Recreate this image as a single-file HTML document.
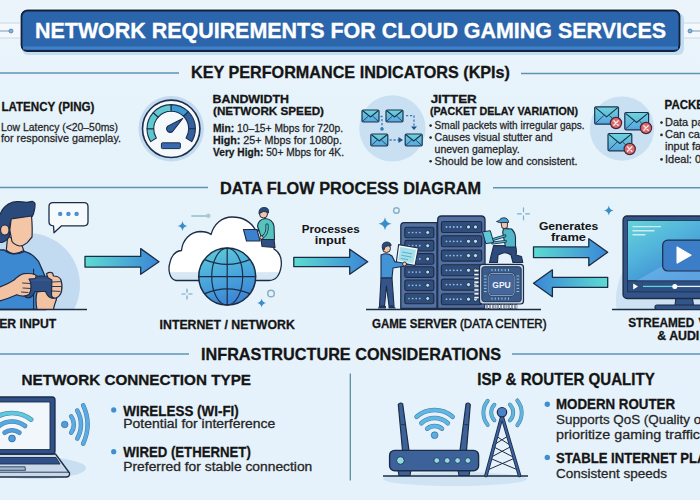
<!DOCTYPE html>
<html><head><meta charset="utf-8">
<style>
html,body{margin:0;padding:0;width:700px;height:500px;overflow:hidden;background:#e6f2fb;}
svg{display:block;font-family:"Liberation Sans",sans-serif;}
.h{font-weight:bold;fill:#151515;stroke:#151515;stroke-width:0.3;}
.b{fill:#262626;stroke:#262626;stroke-width:0.28;}
</style></head><body>
<svg width="700" height="500" viewBox="0 0 700 500">
<defs>
<linearGradient id="bg" x1="0" y1="0" x2="0" y2="1">
<stop offset="0" stop-color="#ebf4fb"/><stop offset="0.2" stop-color="#e7f3fb"/><stop offset="1" stop-color="#e6f2fb"/>
</linearGradient>
</defs>
<rect width="700" height="500" fill="url(#bg)"/>

<!-- TITLE -->
<g id="title">
<rect x="0" y="23" width="21" height="15" fill="#f4f8fc"/>
<line x1="0" y1="23" x2="21" y2="23" stroke="#c9d8e6" stroke-width="1"/>
<line x1="0" y1="38" x2="21" y2="38" stroke="#c9d8e6" stroke-width="1"/>
<line x1="0" y1="31" x2="11" y2="31" stroke="#7b9bb5" stroke-width="1"/>
<circle cx="11" cy="31" r="2" fill="#7fb6de" stroke="#4a7ea8" stroke-width="0.8"/>
<rect x="680" y="23" width="20" height="15" fill="#f4f8fc"/>
<line x1="680" y1="23" x2="700" y2="23" stroke="#c9d8e6" stroke-width="1"/>
<line x1="680" y1="38" x2="700" y2="38" stroke="#c9d8e6" stroke-width="1"/>
<line x1="690" y1="31" x2="700" y2="31" stroke="#7b9bb5" stroke-width="1"/>
<circle cx="690" cy="31" r="2" fill="#7fb6de" stroke="#4a7ea8" stroke-width="0.8"/>
<rect x="20" y="8.5" width="661" height="44" rx="7.5" fill="#fbfdff"/>
<rect x="22" y="13" width="662" height="42" rx="6" fill="#c4dcf2"/>
<rect x="21.5" y="10.5" width="658" height="40.5" rx="6" fill="#2b65ab" stroke="#10223f" stroke-width="1.8"/>
<rect x="23" y="46.5" width="655" height="3" fill="#4080c6"/>
<text x="35" y="37.6" font-size="22.2" font-weight="bold" fill="#ffffff" stroke="#ffffff" stroke-width="0.35" textLength="631" lengthAdjust="spacingAndGlyphs">NETWORK REQUIREMENTS FOR CLOUD GAMING SERVICES</text>
</g>

<!-- SECTION HEADERS -->
<line x1="0" y1="73" x2="179" y2="73" stroke="#5b94b5" stroke-width="1.4"/>
<line x1="521" y1="73.5" x2="700" y2="73.5" stroke="#5b94b5" stroke-width="1.4"/>
<text class="h" x="191" y="78.4" font-size="16.5" textLength="319" lengthAdjust="spacingAndGlyphs">KEY PERFORMANCE INDICATORS (KPIs)</text>

<line x1="0" y1="187.5" x2="208" y2="187.5" stroke="#5b94b5" stroke-width="1.4"/>
<line x1="493" y1="187.7" x2="700" y2="187.7" stroke="#5b94b5" stroke-width="1.4"/>
<text class="h" x="220" y="193.7" font-size="16" textLength="261" lengthAdjust="spacingAndGlyphs">DATA FLOW PROCESS DIAGRAM</text>

<line x1="0" y1="354" x2="189" y2="354" stroke="#5b94b5" stroke-width="1.4"/>
<line x1="512" y1="354" x2="700" y2="354" stroke="#5b94b5" stroke-width="1.4"/>
<text class="h" x="201" y="360" font-size="16.5" textLength="300" lengthAdjust="spacingAndGlyphs">INFRASTRUCTURE CONSIDERATIONS</text>

<!-- KPI TEXTS -->
<text class="h" x="1.4" y="110.7" font-size="12.5" textLength="93" lengthAdjust="spacingAndGlyphs">LATENCY (PING)</text>
<text class="b" x="1" y="131" font-size="11.8" textLength="117" lengthAdjust="spacingAndGlyphs">Low Latency (&lt;20–50ms)</text>
<text class="b" x="1" y="141.5" font-size="11.8" textLength="120" lengthAdjust="spacingAndGlyphs">for responsive gameplay.</text>

<text class="h" x="212.5" y="103" font-size="11.6" textLength="76.5" lengthAdjust="spacingAndGlyphs">BANDWIDTH</text>
<text class="h" x="213" y="115" font-size="11.6" textLength="111" lengthAdjust="spacingAndGlyphs">(NETWORK SPEED)</text>
<text class="b" x="213" y="131.6" font-size="11" textLength="130" lengthAdjust="spacingAndGlyphs"><tspan font-weight="bold" fill="#151515">Min:</tspan> 10–15+ Mbps for 720p.</text>
<text class="b" x="213" y="144" font-size="11" textLength="129" lengthAdjust="spacingAndGlyphs"><tspan font-weight="bold" fill="#151515">High:</tspan> 25+ Mbps for 1080p.</text>
<text class="b" x="213" y="156.2" font-size="11" textLength="131" lengthAdjust="spacingAndGlyphs"><tspan font-weight="bold" fill="#151515">Very High:</tspan> 50+ Mbps for 4K.</text>

<text class="h" x="430.7" y="102.9" font-size="11.6" textLength="46" lengthAdjust="spacingAndGlyphs">JITTER</text>
<text class="h" x="430" y="115" font-size="11.6" textLength="148" lengthAdjust="spacingAndGlyphs">(PACKET DELAY VARIATION)</text>
<circle cx="430.6" cy="125.6" r="1.3" fill="#262626"/>
<text class="b" x="434.6" y="129" font-size="11" textLength="150" lengthAdjust="spacingAndGlyphs">Small packets with irregular gaps.</text>
<circle cx="430.6" cy="137.6" r="1.3" fill="#262626"/>
<text class="b" x="434.6" y="141" font-size="11" textLength="118" lengthAdjust="spacingAndGlyphs">Causes visual stutter and</text>
<text class="b" x="434.6" y="152.5" font-size="11" textLength="85" lengthAdjust="spacingAndGlyphs">uneven gameplay.</text>
<circle cx="430.6" cy="161.2" r="1.3" fill="#262626"/>
<text class="b" x="434.6" y="164.6" font-size="11" textLength="143" lengthAdjust="spacingAndGlyphs">Should be low and consistent.</text>

<text class="h" x="664.6" y="108.8" font-size="12.6" textLength="81" lengthAdjust="spacingAndGlyphs">PACKET LOSS</text>
<circle cx="661.5" cy="122.6" r="1.3" fill="#262626"/>
<text class="b" x="665" y="126" font-size="11">Data packets lost.</text>
<circle cx="661.5" cy="134.9" r="1.3" fill="#262626"/>
<text class="b" x="665" y="138.3" font-size="11">Can cause lag and</text>
<text class="b" x="665" y="150" font-size="11">input failures.</text>
<circle cx="661.5" cy="159.4" r="1.3" fill="#262626"/>
<text class="b" x="665" y="162.8" font-size="11">Ideal: 0%.</text>

<!-- DATA FLOW LABELS -->
<text class="h" x="-0.8" y="328" font-size="12.4" textLength="57" lengthAdjust="spacingAndGlyphs">ER INPUT</text>
<text class="h" x="159.6" y="329" font-size="12.4" textLength="135.2" lengthAdjust="spacingAndGlyphs">INTERNET / NETWORK</text>
<text class="h" style="stroke-width:0.05" x="301.7" y="233.3" font-size="11.3" textLength="58" lengthAdjust="spacingAndGlyphs">Processes</text>
<text class="h" style="stroke-width:0.05" x="314.8" y="244.2" font-size="11.3" textLength="31" lengthAdjust="spacingAndGlyphs">input</text>
<text class="h" style="stroke-width:0.05" x="538.9" y="229.8" font-size="11.3" textLength="59.4" lengthAdjust="spacingAndGlyphs">Generates</text>
<text class="h" style="stroke-width:0.05" x="551" y="241.4" font-size="11.3" textLength="35" lengthAdjust="spacingAndGlyphs">frame</text>
<text class="h" x="372" y="328.4" font-size="12.4" textLength="174.5" lengthAdjust="spacingAndGlyphs">GAME SERVER <tspan font-weight="normal" style="stroke-width:0.55">(DATA CENTER)</tspan></text>
<text class="h" x="628.2" y="326.6" font-size="12" textLength="66" lengthAdjust="spacingAndGlyphs">STREAMED</text><text class="h" x="698.6" y="326.6" font-size="12">VIDEO</text>
<text class="h" x="657.3" y="339.7" font-size="12" textLength="42" lengthAdjust="spacingAndGlyphs">&amp; AUDI</text><text class="h" x="701" y="339.7" font-size="12">O</text>

<!-- INFRA TEXT -->
<text class="h" x="21.5" y="384.5" font-size="15" textLength="229.5" lengthAdjust="spacingAndGlyphs">NETWORK CONNECTION TYPE</text>
<circle cx="113.7" cy="409.9" r="2.6" fill="#3f8fd0"/>
<text class="h" x="123.3" y="415.7" font-size="15" textLength="115.5" lengthAdjust="spacingAndGlyphs">WIRELESS (WI-FI)</text>
<text class="b" x="123.3" y="428.4" font-size="12" textLength="152" lengthAdjust="spacingAndGlyphs">Potential for interference</text>
<circle cx="113.7" cy="451.7" r="2.6" fill="#3f8fd0"/>
<text class="h" x="123.3" y="456.8" font-size="15" textLength="127.5" lengthAdjust="spacingAndGlyphs">WIRED (ETHERNET)</text>
<text class="b" x="123.3" y="470.6" font-size="12" textLength="189" lengthAdjust="spacingAndGlyphs">Preferred for stable connection</text>

<line x1="350.3" y1="373.4" x2="350.3" y2="480.4" stroke="#5b909c" stroke-width="1.3"/>

<text class="h" x="477.3" y="384.6" font-size="15.7" textLength="177.5" lengthAdjust="spacingAndGlyphs">ISP &amp; ROUTER QUALITY</text>
<circle cx="547.3" cy="404.2" r="2.7" fill="#3f8fd0"/>
<text class="h" x="556" y="409.4" font-size="13.8" textLength="119" lengthAdjust="spacingAndGlyphs">MODERN ROUTER</text>
<text class="b" x="556" y="424.4" font-size="13.4">Supports QoS (Quality of Service) to</text>
<text class="b" x="556" y="439" font-size="13.4" textLength="148" lengthAdjust="spacingAndGlyphs">prioritize gaming traffic.</text>
<circle cx="547.3" cy="457.4" r="2.7" fill="#3f8fd0"/>
<text class="h" x="556" y="462.8" font-size="13.8" textLength="160" lengthAdjust="spacingAndGlyphs">STABLE INTERNET PLAN</text>
<text class="b" x="556" y="477.6" font-size="13.4" textLength="111" lengthAdjust="spacingAndGlyphs">Consistent speeds</text>

<circle cx="171.2" cy="128.8" r="32.8" fill="#c3dbf0"/>
<circle cx="171.2" cy="128.8" r="28.7" fill="#f6f9fc" stroke="#1c2f4c" stroke-width="1.6"/>
<path d="M150.68,141.62 A24.2,24.2 0 0 1 147.00,128.80 L153.70,128.80 A17.5,17.5 0 0 0 156.36,138.07 Z" fill="#5cc6cd" stroke="#1c2f4c" stroke-width="1.1" stroke-linejoin="round"/>
<path d="M147.00,128.80 A24.2,24.2 0 0 1 153.22,112.61 L158.19,117.09 A17.5,17.5 0 0 0 153.70,128.80 Z" fill="#5ec9cf" stroke="#1c2f4c" stroke-width="1.1" stroke-linejoin="round"/>
<path d="M153.22,112.61 A24.2,24.2 0 0 1 171.20,104.60 L171.20,111.30 A17.5,17.5 0 0 0 158.19,117.09 Z" fill="#62cbd0" stroke="#1c2f4c" stroke-width="1.1" stroke-linejoin="round"/>
<path d="M171.20,104.60 A24.2,24.2 0 0 1 188.31,111.69 L183.57,116.43 A17.5,17.5 0 0 0 171.20,111.30 Z" fill="#3d9bd4" stroke="#1c2f4c" stroke-width="1.1" stroke-linejoin="round"/>
<path d="M188.31,111.69 A24.2,24.2 0 0 1 195.40,128.80 L188.70,128.80 A17.5,17.5 0 0 0 183.57,116.43 Z" fill="#33609e" stroke="#1c2f4c" stroke-width="1.1" stroke-linejoin="round"/>
<path d="M195.40,128.80 A24.2,24.2 0 0 1 191.72,141.62 L186.04,138.07 A17.5,17.5 0 0 0 188.70,128.80 Z" fill="#33609e" stroke="#1c2f4c" stroke-width="1.1" stroke-linejoin="round"/>
<path d="M172.61,131.48 L182.72,118.43 L167.79,126.12 A3.6,3.6 0 1 0 172.61,131.48 Z" fill="#33609e" stroke="#1c2f4c" stroke-width="1.1" stroke-linejoin="round"/>
<rect x="161.4" y="142.8" width="19" height="5.8" rx="1" fill="#3a6aae" stroke="#1c2f4c" stroke-width="1"/>
<defs><linearGradient id="eg" x1="0" y1="0" x2="0" y2="1"><stop offset="0" stop-color="#6ed4d8"/><stop offset="1" stop-color="#56a4e0"/></linearGradient></defs>
<circle cx="392.4" cy="128.4" r="33.2" fill="#c9e0f3"/>
<rect x="362" y="110" width="17" height="12" rx="1.2" fill="url(#eg)" stroke="#1a3250" stroke-width="1.2"/><path d="M362.8,110.8 L370.5,116.96 L378.2,110.8" fill="none" stroke="#1a3250" stroke-width="1.1" stroke-linejoin="round"/><path d="M362.8,121.2 L368.46,116.0 M378.2,121.2 L372.54,116.0" fill="none" stroke="#1a3250" stroke-width="0.8"/>
<rect x="386" y="110" width="17" height="12" rx="1.2" fill="url(#eg)" stroke="#1a3250" stroke-width="1.2"/><path d="M386.8,110.8 L394.5,116.96 L402.2,110.8" fill="none" stroke="#1a3250" stroke-width="1.1" stroke-linejoin="round"/><path d="M386.8,121.2 L392.46,116.0 M402.2,121.2 L396.54,116.0" fill="none" stroke="#1a3250" stroke-width="0.8"/>
<rect x="370.8" y="134" width="17" height="12" rx="1.2" fill="url(#eg)" stroke="#1a3250" stroke-width="1.2"/><path d="M371.6,134.8 L379.3,140.96 L387.0,134.8" fill="none" stroke="#1a3250" stroke-width="1.1" stroke-linejoin="round"/><path d="M371.6,145.2 L377.26,140.0 M387.0,145.2 L381.34000000000003,140.0" fill="none" stroke="#1a3250" stroke-width="0.8"/>
<rect x="405.2" y="134" width="17" height="12" rx="1.2" fill="url(#eg)" stroke="#1a3250" stroke-width="1.2"/><path d="M406.0,134.8 L413.7,140.96 L421.4,134.8" fill="none" stroke="#1a3250" stroke-width="1.1" stroke-linejoin="round"/><path d="M406.0,145.2 L411.65999999999997,140.0 M421.4,145.2 L415.74,140.0" fill="none" stroke="#1a3250" stroke-width="0.8"/>
<path d="M380.5,116.5 L382,116.5 L382,128" stroke="#3a78b8" stroke-width="1.3" stroke-dasharray="2.2,1.8" fill="none"/>
<circle cx="382" cy="129" r="1.8" fill="#3a78b8"/>
<path d="M406,115.6 L414,115.6 L414,127" stroke="#3a78b8" stroke-width="1.3" stroke-dasharray="2.2,1.8" fill="none"/>
<path d="M411,126.5 L417,126.5 L414,130 Z" fill="#1f4f86"/>
<path d="M389.5,140 L399,140" stroke="#3a78b8" stroke-width="1.3" stroke-dasharray="2.2,1.8" fill="none"/>
<path d="M398.5,137 L403,140 L398.5,143 Z" fill="#1f4f86"/>
<circle cx="622" cy="128.6" r="32.2" fill="#c9e0f3"/>
<rect x="594.7" y="106.9" width="23.8" height="17.3" rx="1.2" fill="url(#eg)" stroke="#1a3250" stroke-width="1.2"/><path d="M595.5,107.7 L606.6,116.934 L617.7,107.7" fill="none" stroke="#1a3250" stroke-width="1.1" stroke-linejoin="round"/><path d="M595.5,123.4 L603.744,115.55000000000001 M617.7,123.4 L609.456,115.55000000000001" fill="none" stroke="#1a3250" stroke-width="0.8"/>
<circle cx="616" cy="123" r="5.6" fill="#dd6a6e" stroke="#4a2434" stroke-width="1.2"/>
<path d="M613.8,120.8 L618.2,125.2 M618.2,120.8 L613.8,125.2" stroke="#fbecec" stroke-width="1.3" stroke-linecap="round"/>
<rect x="624.8" y="112.5" width="23.8" height="17.3" rx="1.2" fill="url(#eg)" stroke="#1a3250" stroke-width="1.2"/><path d="M625.5999999999999,113.3 L636.6999999999999,122.53399999999999 L647.8,113.3" fill="none" stroke="#1a3250" stroke-width="1.1" stroke-linejoin="round"/><path d="M625.5999999999999,129.0 L633.8439999999999,121.15 M647.8,129.0 L639.5559999999999,121.15" fill="none" stroke="#1a3250" stroke-width="0.8"/>
<circle cx="646" cy="128" r="5.6" fill="#dd6a6e" stroke="#4a2434" stroke-width="1.2"/>
<path d="M643.8,125.8 L648.2,130.2 M648.2,125.8 L643.8,130.2" stroke="#fbecec" stroke-width="1.3" stroke-linecap="round"/>
<rect x="608" y="133.5" width="23.8" height="17.3" rx="1.2" fill="url(#eg)" stroke="#1a3250" stroke-width="1.2"/><path d="M608.8,134.3 L619.9,143.534 L631.0,134.3" fill="none" stroke="#1a3250" stroke-width="1.1" stroke-linejoin="round"/><path d="M608.8,150.0 L617.044,142.15 M631.0,150.0 L622.756,142.15" fill="none" stroke="#1a3250" stroke-width="0.8"/>
<circle cx="629.7" cy="149" r="5.6" fill="#dd6a6e" stroke="#4a2434" stroke-width="1.2"/>
<path d="M627.5,146.8 L631.9000000000001,151.2 M631.9000000000001,146.8 L627.5,151.2" stroke="#fbecec" stroke-width="1.3" stroke-linecap="round"/>
<defs>
<linearGradient id="arR" x1="0" y1="0" x2="1" y2="0"><stop offset="0" stop-color="#5ddbd2"/><stop offset="1" stop-color="#3a86d6"/></linearGradient>
<linearGradient id="arL" x1="0" y1="0" x2="1" y2="0"><stop offset="0" stop-color="#3a86d6"/><stop offset="1" stop-color="#5ddbd2"/></linearGradient>
<linearGradient id="glb" x1="0.2" y1="0" x2="0.5" y2="1"><stop offset="0" stop-color="#5ccad8"/><stop offset="0.5" stop-color="#4aa8dc"/><stop offset="1" stop-color="#3c84d4"/></linearGradient>
<linearGradient id="cld" gradientUnits="userSpaceOnUse" x1="0" y1="216" x2="0" y2="281"><stop offset="0.855" stop-color="#ffffff"/><stop offset="0.87" stop-color="#d9e9f5"/><stop offset="1" stop-color="#d3e5f3"/></linearGradient>
<linearGradient id="scr" x1="0" y1="0" x2="0.7" y2="1"><stop offset="0" stop-color="#64d4d8"/><stop offset="0.45" stop-color="#52b4dc"/><stop offset="1" stop-color="#3a84cf"/></linearGradient>
</defs>
<path d="M85,256.4 L140.7,256.4 L140.7,248.6 L159,261.7 L140.7,274.3 L140.7,267.1 L85,267.1 Z" fill="url(#arR)" stroke="#1c2c46" stroke-width="1.3" stroke-linejoin="round"/>
<path d="M293.8,257.3 L349.7,257.3 L349.7,249.2 L367.7,261.8 L349.7,274.2 L349.7,266.7 L293.8,266.7 Z" fill="url(#arR)" stroke="#1c2c46" stroke-width="1.3" stroke-linejoin="round"/>
<path d="M533.5,246.8 L588.8,246.8 L588.8,238.7 L607.7,252.2 L588.8,265.7 L588.8,257.6 L533.5,257.6 Z" fill="url(#arR)" stroke="#1c2c46" stroke-width="1.3" stroke-linejoin="round"/>
<path d="M607.7,277.3 L552.4,277.3 L552.4,269.8 L533.5,283.3 L552.4,296.7 L552.4,287.3 L607.7,287.3 Z" fill="url(#arL)" stroke="#1c2c46" stroke-width="1.3" stroke-linejoin="round"/>
<defs><clipPath id="plclip"><rect x="0" y="190" width="100" height="119.5"/></clipPath></defs>
<circle cx="28" cy="285" r="52" fill="#c3dbf0" clip-path="url(#plclip)"/>
<path d="M-5,249.6 L4.2,250 Q12.6,257 24.5,251.3 Q31,253 35,257.6 Q39,261 40.6,266 L44.5,275 L46,309.5 L-5,309.5 Z" fill="#3c89d2" stroke="#1c2c46" stroke-width="1.3" stroke-linejoin="round"/>
<path d="M7.7,236 L6.3,250 Q12.6,257 23.8,250.6 L21,243 Z" fill="#f3c2a2" stroke="#1c2c46" stroke-width="1.2" stroke-linejoin="round"/>
<path d="M-3,216 L0,214.6 Q2,208.5 8.4,204.1 Q13,201.7 16.8,201.7 Q22,201.6 26.6,202.3 Q30,201.8 32.2,201.3 Q35.5,202.5 35,205 Q35,208 34.3,210.4 Q33.8,214 32.2,216.5 Q28,216.5 25.2,217.4 Q18,218 15.4,218.8 Q12.5,219.5 11.2,220.5 Q9.5,223 9.8,227 L9.5,236 Q7,241 2,242.5 L-3,242.5 Z" fill="#2a4a7c" stroke="#1c2c46" stroke-width="1.2" stroke-linejoin="round"/>
<ellipse cx="4.8" cy="230" rx="4.2" ry="5" fill="#f3c2a2" stroke="#1c2c46" stroke-width="1.1"/>
<path d="M11.2,218.8 L31.5,216 Q32.6,228 32,237 L27.3,242.6 Q23,246 19.6,246 Q14,244.5 11.9,241.2 L9.8,230 Z" fill="#f5c6a6" stroke="#1c2c46" stroke-width="1.2" stroke-linejoin="round"/>
<line x1="33.6" y1="268.8" x2="33.6" y2="309" stroke="#1c2c46" stroke-width="1.1"/>
<path d="M37,309.5 Q35,300 37,292 L55,290 Q58,297 55.5,302 Q54,306 53.5,309.5 Z" fill="#f3c2a2" stroke="#1c2c46" stroke-width="1.2" stroke-linejoin="round"/>
<path d="M26,277 Q41,275 57,277 Q59.5,284 58.4,292 Q57.5,298.5 52,298.2 Q48,297.5 45.5,291.5 L35,291.5 Q32.5,297.5 28.5,298 Q23,297.5 23.5,291 Q23,283 26,277 Z" fill="#2f4f84" stroke="#1c2c46" stroke-width="1.2" stroke-linejoin="round"/>
<path d="M30,280 L52,280" stroke="#4a6aa0" stroke-width="0.8" opacity="0.8"/>
<path d="M-5,288 L0,287 Q8,284 14,280 Q19,275 23.8,273.7 Q31,273 35.5,274.8 Q37,277 35,278.6 L29,279 Q31,282 30.8,285 Q31.5,291 29,294.5 Q24,297.5 16.8,294.7 Q8,298.5 0,301 L-5,302 Z" fill="#f3c2a2" stroke="#1c2c46" stroke-width="1.2" stroke-linejoin="round"/>
<path d="M22.5,283 L30.5,283.5 M23,288 L30.5,288.5 M21.5,292 L28,292.5" stroke="#1c2c46" stroke-width="0.9" stroke-linecap="round"/>
<path d="M46.5,273.8 Q49.5,271.6 52.5,273 L53.5,276 Q58.8,276 60.8,279.5 Q62.8,285 61.5,291.5 Q60,296.5 56,298 Q52.5,298.8 51.5,295.5 L51.8,280 L48,277.8 Z" fill="#f3c2a2" stroke="#1c2c46" stroke-width="1.2" stroke-linejoin="round"/>
<path d="M52.2,282 L60.2,281.6 M52.2,286.5 L61.2,286.5 M52.2,291 L60,291.4" stroke="#1c2c46" stroke-width="0.9" stroke-linecap="round"/>
<line x1="0" y1="309.5" x2="87" y2="309.5" stroke="#1c2c46" stroke-width="1.3"/>
<path d="M53,202.7 L84,202.7 Q88,202.7 88,206.7 L88,221.8 Q88,225.8 84,225.8 L61.6,225.8 L54,232.8 L53.5,225.8 Q49,225.8 49,221.8 L49,206.7 Q49,202.7 53,202.7 Z" fill="#f7fafd" stroke="#1c2c46" stroke-width="1.3" stroke-linejoin="round"/>
<circle cx="60.2" cy="213.9" r="2.2" fill="#4a8fcf"/>
<circle cx="68.4" cy="213.9" r="2.2" fill="#4a8fcf"/>
<circle cx="76.6" cy="213.9" r="2.2" fill="#4a8fcf"/>
<path d="M176,280.5 C169.5,279 167.8,270 169.8,263 C171.5,255.5 176,251 181.5,250.5 C182.5,240 190,232 200,231.5 C205,231.5 208.5,232.5 211,234.5 C214,224 222,217 232,217 C243,217 251,222 255.5,230 C266,231.5 273.5,239.5 274,249 C280,252.5 282,259 281.2,266 C280,274.5 276,280.5 269,280.5 Z" fill="url(#cld)" stroke="#1c2c46" stroke-width="1.3" stroke-linejoin="round"/>
<path d="M261,239 L274,239 L275,247.5 L262,246.5 Z" fill="#2f5080" stroke="#1c2c46" stroke-width="1.1" stroke-linejoin="round"/>
<path d="M257.5,226 Q258.5,219.5 265,218.5 Q272.5,219 274,226 L274.5,239.5 L262,239.5 Z" fill="#55c4bc" stroke="#1c2c46" stroke-width="1.1" stroke-linejoin="round"/>
<circle cx="263.5" cy="214" r="4" fill="#f5c6a6" stroke="#1c2c46" stroke-width="1"/>
<path d="M259,214 Q258.5,207.5 264,207.5 Q269.5,207.5 268.5,213 L267,212 Q263,210.5 260.5,213 Z" fill="#2a4a7c" stroke="#1c2c46" stroke-width="0.9" stroke-linejoin="round"/>
<path d="M243.5,229.5 L257,229.5 L260,241 L246.5,241 Z" fill="#3d80d0" stroke="#1c2c46" stroke-width="1.1" stroke-linejoin="round"/>
<path d="M267,225 Q268,234 262,237.5" fill="none" stroke="#1c2c46" stroke-width="3.2" stroke-linecap="round"/>
<path d="M267,225 Q268,234 262,237.5" fill="none" stroke="#55c4bc" stroke-width="1.6" stroke-linecap="round"/>
<circle cx="261.5" cy="237.5" r="1.6" fill="#f5c6a6" stroke="#1c2c46" stroke-width="0.8"/>
<circle cx="227.2" cy="276.6" r="28.5" fill="url(#glb)" stroke="#1c2c46" stroke-width="1.5"/>
<g fill="none" stroke="#1c2c46" stroke-width="1.2"><ellipse cx="227.2" cy="276.6" rx="15.5" ry="28.5"/><line x1="227.2" y1="248.10000000000002" x2="227.2" y2="305.1"/><line x1="198.7" y1="276.6" x2="255.7" y2="276.6"/><path d="M204.7,259.6 Q227.2,269.1 249.7,259.6"/><path d="M204.7,293.6 Q227.2,284.1 249.7,293.6"/></g>
<line x1="192" y1="216" x2="207" y2="216" stroke="#a6ccd8" stroke-width="1.8" stroke-linecap="round"/><circle cx="208.3" cy="215.8" r="2.2" fill="#a6ccd8"/>
<path d="M182.5,221 Q183.2,225.3 187.5,226 Q183.2,226.7 182.5,231 Q181.8,226.7 177.5,226 Q181.8,225.3 182.5,221 Z" fill="#3a8ec8"/>
<path d="M187,289 L187,292.25 M187,295.75 L187,299 M182,294 L185.25,294 M188.75,294 L192,294" stroke="#6fa3c6" stroke-width="1.2" stroke-linecap="round"/>
<circle cx="271" cy="293.5" r="3.3" fill="none" stroke="#86b0c6" stroke-width="1.5"/>
<path d="M261.6,298.5 Q262.23,302.37 266.1,303 Q262.23,303.63 261.6,307.5 Q260.97,303.63 257.1,303 Q260.97,302.37 261.6,298.5 Z" fill="#3a8ec8"/>
<path d="M385,217.2 Q385.91,222.79 391.5,223.7 Q385.91,224.60999999999999 385,230.2 Q384.09,224.60999999999999 378.5,223.7 Q384.09,222.79 385,217.2 Z" fill="#3a8ec8"/>
<circle cx="396.4" cy="210.5" r="2.8" fill="none" stroke="#86b0c6" stroke-width="1.4"/>
<path d="M523.5,207.8 L523.5,211.70000000000002 M523.5,215.9 L523.5,219.8 M517.5,213.8 L521.4,213.8 M525.6,213.8 L529.5,213.8" stroke="#7ab0cc" stroke-width="1.2" stroke-linecap="round"/>
<path d="M608.8,205.5 Q609.5,209.8 613.8,210.5 Q609.5,211.2 608.8,215.5 Q608.0999999999999,211.2 603.8,210.5 Q608.0999999999999,209.8 608.8,205.5 Z" fill="#3a8ec8"/>
<path d="M400.8,308.4 L400.8,226 Q400.8,222.6 404.2,222.6 L437,222.6 L437,308.4 Z" fill="#5270a2" stroke="#1c2c46" stroke-width="1.3"/>
<rect x="404.8" y="227.2" width="29" height="10.6" rx="1.8" fill="#314d7c" stroke="#1c2c46" stroke-width="1.1"/>
<circle cx="409.0" cy="232.5" r="0.85" fill="#8fc3e8"/>
<circle cx="412.6" cy="232.5" r="0.85" fill="#8fc3e8"/>
<circle cx="416.2" cy="232.5" r="0.85" fill="#8fc3e8"/>
<circle cx="419.8" cy="232.5" r="0.85" fill="#8fc3e8"/>
<circle cx="427.7" cy="232.5" r="2" fill="#b5def2" stroke="#1c2c46" stroke-width="0.9"/>
<rect x="404.8" y="240.39999999999998" width="29" height="10.6" rx="1.8" fill="#314d7c" stroke="#1c2c46" stroke-width="1.1"/>
<circle cx="409.0" cy="245.7" r="0.85" fill="#8fc3e8"/>
<circle cx="412.6" cy="245.7" r="0.85" fill="#8fc3e8"/>
<circle cx="416.2" cy="245.7" r="0.85" fill="#8fc3e8"/>
<circle cx="419.8" cy="245.7" r="0.85" fill="#8fc3e8"/>
<circle cx="427.7" cy="245.7" r="2" fill="#b5def2" stroke="#1c2c46" stroke-width="0.9"/>
<rect x="404.8" y="253.59999999999997" width="29" height="10.6" rx="1.8" fill="#314d7c" stroke="#1c2c46" stroke-width="1.1"/>
<circle cx="409.0" cy="258.9" r="0.85" fill="#8fc3e8"/>
<circle cx="412.6" cy="258.9" r="0.85" fill="#8fc3e8"/>
<circle cx="416.2" cy="258.9" r="0.85" fill="#8fc3e8"/>
<circle cx="419.8" cy="258.9" r="0.85" fill="#8fc3e8"/>
<circle cx="427.7" cy="258.9" r="2" fill="#b5def2" stroke="#1c2c46" stroke-width="0.9"/>
<rect x="404.8" y="266.8" width="29" height="10.6" rx="1.8" fill="#314d7c" stroke="#1c2c46" stroke-width="1.1"/>
<circle cx="409.0" cy="272.1" r="0.85" fill="#8fc3e8"/>
<circle cx="412.6" cy="272.1" r="0.85" fill="#8fc3e8"/>
<circle cx="416.2" cy="272.1" r="0.85" fill="#8fc3e8"/>
<circle cx="419.8" cy="272.1" r="0.85" fill="#8fc3e8"/>
<circle cx="427.7" cy="272.1" r="2" fill="#b5def2" stroke="#1c2c46" stroke-width="0.9"/>
<rect x="404.8" y="280.0" width="29" height="10.6" rx="1.8" fill="#314d7c" stroke="#1c2c46" stroke-width="1.1"/>
<circle cx="409.0" cy="285.3" r="0.85" fill="#8fc3e8"/>
<circle cx="412.6" cy="285.3" r="0.85" fill="#8fc3e8"/>
<circle cx="416.2" cy="285.3" r="0.85" fill="#8fc3e8"/>
<circle cx="419.8" cy="285.3" r="0.85" fill="#8fc3e8"/>
<circle cx="427.7" cy="285.3" r="2" fill="#b5def2" stroke="#1c2c46" stroke-width="0.9"/>
<rect x="404.8" y="293.2" width="29" height="10.6" rx="1.8" fill="#314d7c" stroke="#1c2c46" stroke-width="1.1"/>
<circle cx="409.0" cy="298.5" r="0.85" fill="#8fc3e8"/>
<circle cx="412.6" cy="298.5" r="0.85" fill="#8fc3e8"/>
<circle cx="416.2" cy="298.5" r="0.85" fill="#8fc3e8"/>
<circle cx="419.8" cy="298.5" r="0.85" fill="#8fc3e8"/>
<circle cx="427.7" cy="298.5" r="2" fill="#b5def2" stroke="#1c2c46" stroke-width="0.9"/>
<path d="M437.7,308.4 L437.7,220 Q437.7,216 441.7,216 L481,216 Q485,216 485,220 L485,308.4 Z" fill="#5270a2" stroke="#1c2c46" stroke-width="1.3"/>
<rect x="441.4" y="221.5" width="40.3" height="11" rx="1.8" fill="#314d7c" stroke="#1c2c46" stroke-width="1.1"/>
<circle cx="446.5" cy="227" r="0.9" fill="#8fc3e8"/>
<circle cx="450.1" cy="227" r="0.9" fill="#8fc3e8"/>
<circle cx="453.7" cy="227" r="0.9" fill="#8fc3e8"/>
<circle cx="457.3" cy="227" r="0.9" fill="#8fc3e8"/>
<circle cx="460.9" cy="227" r="0.9" fill="#8fc3e8"/>
<circle cx="468.5" cy="227" r="2.1" fill="#b5def2" stroke="#1c2c46" stroke-width="0.9"/>
<circle cx="475.5" cy="227" r="2.1" fill="#b5def2" stroke="#1c2c46" stroke-width="0.9"/>
<rect x="441.4" y="235.8" width="40.3" height="11" rx="1.8" fill="#314d7c" stroke="#1c2c46" stroke-width="1.1"/>
<circle cx="446.5" cy="241.3" r="0.9" fill="#8fc3e8"/>
<circle cx="450.1" cy="241.3" r="0.9" fill="#8fc3e8"/>
<circle cx="453.7" cy="241.3" r="0.9" fill="#8fc3e8"/>
<circle cx="457.3" cy="241.3" r="0.9" fill="#8fc3e8"/>
<circle cx="460.9" cy="241.3" r="0.9" fill="#8fc3e8"/>
<circle cx="468.5" cy="241.3" r="2.1" fill="#b5def2" stroke="#1c2c46" stroke-width="0.9"/>
<circle cx="475.5" cy="241.3" r="2.1" fill="#b5def2" stroke="#1c2c46" stroke-width="0.9"/>
<rect x="441.4" y="250.1" width="40.3" height="11" rx="1.8" fill="#314d7c" stroke="#1c2c46" stroke-width="1.1"/>
<circle cx="446.5" cy="255.6" r="0.9" fill="#8fc3e8"/>
<circle cx="450.1" cy="255.6" r="0.9" fill="#8fc3e8"/>
<circle cx="453.7" cy="255.6" r="0.9" fill="#8fc3e8"/>
<circle cx="457.3" cy="255.6" r="0.9" fill="#8fc3e8"/>
<circle cx="460.9" cy="255.6" r="0.9" fill="#8fc3e8"/>
<circle cx="468.5" cy="255.6" r="2.1" fill="#b5def2" stroke="#1c2c46" stroke-width="0.9"/>
<circle cx="475.5" cy="255.6" r="2.1" fill="#b5def2" stroke="#1c2c46" stroke-width="0.9"/>
<rect x="441.4" y="264.8" width="40.3" height="11" rx="1.8" fill="#314d7c" stroke="#1c2c46" stroke-width="1.1"/>
<circle cx="446.5" cy="270.3" r="0.9" fill="#8fc3e8"/>
<circle cx="450.1" cy="270.3" r="0.9" fill="#8fc3e8"/>
<circle cx="453.7" cy="270.3" r="0.9" fill="#8fc3e8"/>
<circle cx="457.3" cy="270.3" r="0.9" fill="#8fc3e8"/>
<circle cx="460.9" cy="270.3" r="0.9" fill="#8fc3e8"/>
<circle cx="468.5" cy="270.3" r="2.1" fill="#b5def2" stroke="#1c2c46" stroke-width="0.9"/>
<circle cx="475.5" cy="270.3" r="2.1" fill="#b5def2" stroke="#1c2c46" stroke-width="0.9"/>
<rect x="441.4" y="279.1" width="40.3" height="11" rx="1.8" fill="#314d7c" stroke="#1c2c46" stroke-width="1.1"/>
<circle cx="446.5" cy="284.6" r="0.9" fill="#8fc3e8"/>
<circle cx="450.1" cy="284.6" r="0.9" fill="#8fc3e8"/>
<circle cx="453.7" cy="284.6" r="0.9" fill="#8fc3e8"/>
<circle cx="457.3" cy="284.6" r="0.9" fill="#8fc3e8"/>
<circle cx="460.9" cy="284.6" r="0.9" fill="#8fc3e8"/>
<circle cx="468.5" cy="284.6" r="2.1" fill="#b5def2" stroke="#1c2c46" stroke-width="0.9"/>
<circle cx="475.5" cy="284.6" r="2.1" fill="#b5def2" stroke="#1c2c46" stroke-width="0.9"/>
<rect x="441.4" y="293.7" width="40.3" height="11" rx="1.8" fill="#314d7c" stroke="#1c2c46" stroke-width="1.1"/>
<circle cx="446.5" cy="299.2" r="0.9" fill="#8fc3e8"/>
<circle cx="450.1" cy="299.2" r="0.9" fill="#8fc3e8"/>
<circle cx="453.7" cy="299.2" r="0.9" fill="#8fc3e8"/>
<circle cx="457.3" cy="299.2" r="0.9" fill="#8fc3e8"/>
<circle cx="460.9" cy="299.2" r="0.9" fill="#8fc3e8"/>
<circle cx="468.5" cy="299.2" r="2.1" fill="#b5def2" stroke="#1c2c46" stroke-width="0.9"/>
<circle cx="475.5" cy="299.2" r="2.1" fill="#b5def2" stroke="#1c2c46" stroke-width="0.9"/>
<rect x="474" y="269.5" width="5" height="2.3" rx="0.8" fill="#f4f7fb" stroke="#1c2c46" stroke-width="0.5"/><rect x="474" y="273.4" width="5" height="2.3" rx="0.8" fill="#f4f7fb" stroke="#1c2c46" stroke-width="0.5"/><rect x="474" y="277.2" width="5" height="2.3" rx="0.8" fill="#f4f7fb" stroke="#1c2c46" stroke-width="0.5"/><rect x="474" y="281.1" width="5" height="2.3" rx="0.8" fill="#f4f7fb" stroke="#1c2c46" stroke-width="0.5"/><rect x="474" y="284.9" width="5" height="2.3" rx="0.8" fill="#f4f7fb" stroke="#1c2c46" stroke-width="0.5"/><rect x="474" y="288.8" width="5" height="2.3" rx="0.8" fill="#f4f7fb" stroke="#1c2c46" stroke-width="0.5"/><rect x="474" y="292.6" width="5" height="2.3" rx="0.8" fill="#f4f7fb" stroke="#1c2c46" stroke-width="0.5"/><rect x="474" y="296.4" width="5" height="2.3" rx="0.8" fill="#f4f7fb" stroke="#1c2c46" stroke-width="0.5"/><rect x="485.0" y="304.3" width="1.8" height="4.6" fill="#f4f7fb" stroke="#1c2c46" stroke-width="0.45"/><rect x="487.8" y="304.3" width="1.8" height="4.6" fill="#f4f7fb" stroke="#1c2c46" stroke-width="0.45"/><rect x="490.5" y="304.3" width="1.8" height="4.6" fill="#f4f7fb" stroke="#1c2c46" stroke-width="0.45"/><rect x="493.2" y="304.3" width="1.8" height="4.6" fill="#f4f7fb" stroke="#1c2c46" stroke-width="0.45"/><rect x="496.0" y="304.3" width="1.8" height="4.6" fill="#f4f7fb" stroke="#1c2c46" stroke-width="0.45"/><rect x="498.8" y="304.3" width="1.8" height="4.6" fill="#f4f7fb" stroke="#1c2c46" stroke-width="0.45"/><rect x="501.5" y="304.3" width="1.8" height="4.6" fill="#f4f7fb" stroke="#1c2c46" stroke-width="0.45"/><rect x="504.2" y="304.3" width="1.8" height="4.6" fill="#f4f7fb" stroke="#1c2c46" stroke-width="0.45"/><rect x="507.0" y="304.3" width="1.8" height="4.6" fill="#f4f7fb" stroke="#1c2c46" stroke-width="0.45"/><rect x="509.8" y="304.3" width="1.8" height="4.6" fill="#f4f7fb" stroke="#1c2c46" stroke-width="0.45"/><rect x="512.5" y="304.3" width="1.8" height="4.6" fill="#f4f7fb" stroke="#1c2c46" stroke-width="0.45"/><rect x="515.2" y="304.3" width="1.8" height="4.6" fill="#f4f7fb" stroke="#1c2c46" stroke-width="0.45"/>
<rect x="479.5" y="264.4" width="44" height="39.6" rx="3" fill="#c9daec" stroke="#1c2c46" stroke-width="1.2"/>
<rect x="481.8" y="266.7" width="39.4" height="35" rx="2.5" fill="#3a5a8a" stroke="#1c2c46" stroke-width="0.9"/>
<line x1="492.0" y1="269" x2="492.0" y2="271.2" stroke="#8ec4e0" stroke-width="1"/><line x1="495.3" y1="269" x2="495.3" y2="271.2" stroke="#8ec4e0" stroke-width="1"/><line x1="498.6" y1="269" x2="498.6" y2="271.2" stroke="#8ec4e0" stroke-width="1"/><line x1="501.9" y1="269" x2="501.9" y2="271.2" stroke="#8ec4e0" stroke-width="1"/><line x1="505.2" y1="269" x2="505.2" y2="271.2" stroke="#8ec4e0" stroke-width="1"/><line x1="508.5" y1="269" x2="508.5" y2="271.2" stroke="#8ec4e0" stroke-width="1"/><line x1="492.0" y1="297.5" x2="492.0" y2="299.7" stroke="#8ec4e0" stroke-width="1"/><line x1="495.3" y1="297.5" x2="495.3" y2="299.7" stroke="#8ec4e0" stroke-width="1"/><line x1="498.6" y1="297.5" x2="498.6" y2="299.7" stroke="#8ec4e0" stroke-width="1"/><line x1="501.9" y1="297.5" x2="501.9" y2="299.7" stroke="#8ec4e0" stroke-width="1"/><line x1="505.2" y1="297.5" x2="505.2" y2="299.7" stroke="#8ec4e0" stroke-width="1"/><line x1="508.5" y1="297.5" x2="508.5" y2="299.7" stroke="#8ec4e0" stroke-width="1"/><line x1="484" y1="276.0" x2="486.6" y2="276.0" stroke="#8ec4e0" stroke-width="1"/><line x1="484" y1="279.1" x2="486.6" y2="279.1" stroke="#8ec4e0" stroke-width="1"/><line x1="484" y1="282.2" x2="486.6" y2="282.2" stroke="#8ec4e0" stroke-width="1"/><line x1="484" y1="285.3" x2="486.6" y2="285.3" stroke="#8ec4e0" stroke-width="1"/><line x1="484" y1="288.4" x2="486.6" y2="288.4" stroke="#8ec4e0" stroke-width="1"/><line x1="484" y1="291.5" x2="486.6" y2="291.5" stroke="#8ec4e0" stroke-width="1"/><line x1="516.6" y1="276.0" x2="519.2" y2="276.0" stroke="#8ec4e0" stroke-width="1"/><line x1="516.6" y1="279.1" x2="519.2" y2="279.1" stroke="#8ec4e0" stroke-width="1"/><line x1="516.6" y1="282.2" x2="519.2" y2="282.2" stroke="#8ec4e0" stroke-width="1"/><line x1="516.6" y1="285.3" x2="519.2" y2="285.3" stroke="#8ec4e0" stroke-width="1"/><line x1="516.6" y1="288.4" x2="519.2" y2="288.4" stroke="#8ec4e0" stroke-width="1"/><line x1="516.6" y1="291.5" x2="519.2" y2="291.5" stroke="#8ec4e0" stroke-width="1"/>
<rect x="488.8" y="273.4" width="25.4" height="22.2" rx="3" fill="#46679b" stroke="#1c2c46" stroke-width="1.6"/>
<rect x="488.8" y="273.4" width="25.4" height="22.2" rx="3" fill="none" stroke="#a9c8e6" stroke-width="0.8"/>
<text x="501.5" y="288.2" font-size="9.4" font-weight="bold" fill="#eef4fa" text-anchor="middle" textLength="18.5" lengthAdjust="spacingAndGlyphs">GPU</text>
<line x1="366" y1="309.5" x2="541" y2="309.5" stroke="#1c2c46" stroke-width="1.3"/>
<path d="M381,255 Q387,252 392,256 L395,262 L405,261 Q407,264 405,266 L393,268 L392,278 L381,278 Z" fill="#4394d6" stroke="#1c2c46" stroke-width="1.1" stroke-linejoin="round"/>
<path d="M381,278 L392,278 L394,306 L389,306 L386.5,286 L384.5,306 L379.5,306 Z" fill="#34548a" stroke="#1c2c46" stroke-width="1.1" stroke-linejoin="round"/>
<path d="M379,306 L386,306 L386,308.5 L378,308.5 Z M388.5,306 L394,306 L396,308.5 L388.5,308.5 Z" fill="#1f355c"/>
<circle cx="386.5" cy="248.5" r="4" fill="#f5c6a6" stroke="#1c2c46" stroke-width="1"/>
<path d="M382.3,248 Q381.5,242 387,242 Q391.5,242.5 391,246 Q388,245 385,247 L384,250 Z" fill="#2a4a7c" stroke="#1c2c46" stroke-width="0.9"/>
<path d="M398.6,244.6 L418.4,248 L415,265.5 L396.4,261.8 Z" fill="#f4f9fc" stroke="#1c2c46" stroke-width="1.1" stroke-linejoin="round"/>
<path d="M400.3,247 L416,249.8 L413.3,263.4 L398.2,260.3 Z" fill="#a6e0ea"/>
<path d="M402,252 L412,253.8 M401.4,255.3 L411.4,257.1 M400.8,258.4 L408,259.7" stroke="#4fa9c9" stroke-width="0.9"/>
<circle cx="404.5" cy="264" r="2" fill="#f5c6a6" stroke="#1c2c46" stroke-width="0.9"/>
<path d="M493.7,245.5 L515.5,246 Q517,250 516,255 L521.5,256.5 L522.8,262.5 L513,262.5 L511,255 Q507,252 503,253 L498,255 L497.5,262.5 L489.5,262.5 L491,256 Z" fill="#2c4a7c" stroke="#1c2c46" stroke-width="1.1" stroke-linejoin="round"/>
<path d="M503.5,228.5 L511.6,229 Q515.5,233 515.5,238 L515.5,247 L505.5,247 L502.7,232.4 Z" fill="#52b8c9" stroke="#1c2c46" stroke-width="1.1" stroke-linejoin="round"/>
<path d="M505,235.8 L492.6,239.7 M505.5,241.4 L492.6,243" fill="none" stroke="#1c2c46" stroke-width="2.8" stroke-linecap="round"/>
<path d="M505,235.8 L492.6,239.7 M505.5,241.4 L492.6,243" fill="none" stroke="#52b8c9" stroke-width="1.3" stroke-linecap="round"/>
<path d="M482.5,231.9 L490.3,230.7 L493.7,242.5 L485.8,243.6 Z" fill="#5cc8d8" stroke="#1c2c46" stroke-width="1" stroke-linejoin="round"/>
<path d="M501,222.3 L507.5,222.3 L507.3,227.5 Q505,229.2 502,228 Z" fill="#f5c6a6" stroke="#1c2c46" stroke-width="0.9" stroke-linejoin="round"/>
<path d="M496.5,221.5 L499.5,220.5 Q500,217.8 503.8,217.8 Q508.5,218 508.5,222.5 L499.5,222.6 Z" fill="#4aa0d0" stroke="#1c2c46" stroke-width="0.9" stroke-linejoin="round"/>
<circle cx="680" cy="300" r="64" fill="#cde2f2" clip-path="url(#monclip)"/>
<defs><clipPath id="monclip"><rect x="600" y="200" width="100" height="109.5"/></clipPath></defs>
<line x1="612" y1="309.5" x2="700" y2="309.5" stroke="#1c2c46" stroke-width="1.3"/>
<path d="M675.9,298 L692.4,298 L693.5,305.5 L675,305.5 Z" fill="#33558a" stroke="#1c2c46" stroke-width="1.1"/>
<rect x="655" y="305" width="55" height="4.5" rx="2" fill="#33558a" stroke="#1c2c46" stroke-width="1.1"/>
<rect x="623.1" y="216" width="90" height="82.5" rx="4" fill="#33558a" stroke="#1c2c46" stroke-width="1.4"/>
<rect x="627.5" y="220.4" width="80" height="60.5" fill="url(#scr)" stroke="#1c2c46" stroke-width="0.8"/>
<path d="M636,280.9 L664,265 L700,252 L700,280.9 Z" fill="#74b6ec" opacity="0.6"/>
<rect x="627.5" y="280.9" width="80" height="11" fill="#2e4f82" stroke="#1c2c46" stroke-width="0.8"/>
<path d="M633,226.6 L660.5,226.6 M633,230.7 L654,230.7 M633,234.7 L645,234.7" stroke="#d8f2f5" stroke-width="1.4" stroke-linecap="round" opacity="0.9"/>
<rect x="662.7" y="240.2" width="50" height="30.8" rx="5" fill="#3c7dc8" stroke="#1c2c46" stroke-width="1.2"/>
<path d="M677,246.8 L677,263.3 L691.3,255.2 Z" fill="#ffffff" stroke="#ffffff" stroke-width="1" stroke-linejoin="round"/>
<path d="M633.2,283.6 L633.2,289.6 L638,286.6 Z" fill="#ffffff"/>
<line x1="643" y1="286.4" x2="674.8" y2="286.4" stroke="#62d0d8" stroke-width="1.3"/>
<line x1="674.8" y1="286.4" x2="700" y2="286.4" stroke="#e8f2fa" stroke-width="1.3"/>
<circle cx="674.8" cy="286.4" r="2.5" fill="#ffffff"/>
<ellipse cx="36" cy="468" rx="50" ry="11" fill="#c8def1"/>
<path d="M-5,454 L55.5,454 L69.5,473 Q70,477 66,477 L-5,477 Z" fill="#c9d8ea" stroke="#1c2c46" stroke-width="1.3" stroke-linejoin="round"/>
<path d="M-5,457.5 L56,457.5 L60,464 L-5,464 Z" fill="#2f5088" stroke="#1c2c46" stroke-width="0.9"/>
<path d="M-5,466.8 L25,466.8 L25.5,470.3 L-5,470.3 Z" fill="#9fb8d4" stroke="#1c2c46" stroke-width="0.8"/>
<path d="M-5,472.2 L69,472.2" stroke="#1c2c46" stroke-width="0.9"/>
<rect x="-5" y="397" width="60" height="57" rx="3" fill="#2f5088" stroke="#1c2c46" stroke-width="1.3"/>
<rect x="-5" y="402" width="55" height="47.6" fill="#f2f7fb" stroke="#1c2c46" stroke-width="0.9"/>
<circle cx="12" cy="438.5" r="3.4" fill="#4d9fe0" stroke="#2a5a8a" stroke-width="0.7"/>
<path d="M4.65,432.69 A12.5,12.5 0 0 1 19.35,432.69" fill="none" stroke="#2a5a8a" stroke-width="4.7" stroke-linecap="round" opacity="0.8"/><path d="M4.65,432.69 A12.5,12.5 0 0 1 19.35,432.69" fill="none" stroke="#4d9fe0" stroke-width="3.6" stroke-linecap="round"/>
<path d="M-0.93,425.95 A21,21 0 0 1 24.93,425.95" fill="none" stroke="#2a5a8a" stroke-width="4.7" stroke-linecap="round" opacity="0.8"/><path d="M-0.93,425.95 A21,21 0 0 1 24.93,425.95" fill="none" stroke="#52aae2" stroke-width="3.6" stroke-linecap="round"/>
<path d="M-7.09,419.57 A31,31 0 0 1 31.09,419.57" fill="none" stroke="#2a5a8a" stroke-width="4.7" stroke-linecap="round" opacity="0.8"/><path d="M-7.09,419.57 A31,31 0 0 1 31.09,419.57" fill="none" stroke="#5ccbe0" stroke-width="3.6" stroke-linecap="round"/>
<circle cx="64.7" cy="424.5" r="3.3" fill="#4d9ee0" stroke="#2a5a8a" stroke-width="0.6"/>
<path d="M71.18,416.38 A13.5,13.5 0 0 1 71.18,432.62" fill="none" stroke="#2a5a8a" stroke-width="4.5" stroke-linecap="round" opacity="0.8"/><path d="M71.18,416.38 A13.5,13.5 0 0 1 71.18,432.62" fill="none" stroke="#58ace6" stroke-width="3.4" stroke-linecap="round"/>
<path d="M77.25,410.50 A28,28 0 0 1 77.25,438.50" fill="none" stroke="#2a5a8a" stroke-width="4.5" stroke-linecap="round" opacity="0.8"/><path d="M77.25,410.50 A28,28 0 0 1 77.25,438.50" fill="none" stroke="#58ace6" stroke-width="3.4" stroke-linecap="round"/>
<path d="M83.15,405.31 A45.4,45.4 0 0 1 83.15,443.69" fill="none" stroke="#2a5a8a" stroke-width="4.5" stroke-linecap="round" opacity="0.8"/><path d="M83.15,405.31 A45.4,45.4 0 0 1 83.15,443.69" fill="none" stroke="#58ace6" stroke-width="3.4" stroke-linecap="round"/>
<ellipse cx="455" cy="479" rx="72" ry="7" fill="#cfe3f3"/>
<line x1="383" y1="476" x2="528" y2="476" stroke="#1c2c46" stroke-width="1.3"/>
<path d="M398,470 L411,470 L410,475.5 L399,475.5 Z M458,470 L470,470 L469,475.5 L459,475.5 Z" fill="#3d6199" stroke="#1c2c46" stroke-width="1.1"/>
<path d="M398.3,404.5 Q400.5,401.8 402.7,404 L409,450.5 L402.5,450.5 Z" fill="#3d6199" stroke="#1c2c46" stroke-width="1.2" stroke-linejoin="round"/>
<path d="M466,404 Q468.2,401.8 470.3,404.5 L466.5,450.5 L460,450.5 Z" fill="#3d6199" stroke="#1c2c46" stroke-width="1.2" stroke-linejoin="round"/>
<line x1="401" y1="424.6" x2="405" y2="424.6" stroke="#1c2c46" stroke-width="0.8"/><line x1="464.5" y1="424.6" x2="468" y2="424.6" stroke="#1c2c46" stroke-width="0.8"/>
<rect x="389.6" y="450.4" width="89" height="20.3" rx="5" fill="#3d6199" stroke="#1c2c46" stroke-width="1.4"/>
<circle cx="400.4" cy="460.5" r="3.8" fill="#8fdce2" stroke="#1c2c46" stroke-width="0.8"/>
<circle cx="436.8" cy="460.5" r="2.8" fill="#8fdce2" stroke="#1c2c46" stroke-width="0.7"/>
<circle cx="447.2" cy="460.5" r="2.8" fill="#8fdce2" stroke="#1c2c46" stroke-width="0.7"/>
<circle cx="457.6" cy="460.5" r="2.8" fill="#8fdce2" stroke="#1c2c46" stroke-width="0.7"/>
<circle cx="467.9" cy="460.5" r="2.8" fill="#8fdce2" stroke="#1c2c46" stroke-width="0.7"/>
<circle cx="434.6" cy="435.2" r="3.4" fill="#5aace2" stroke="#2a5a8a" stroke-width="0.6"/>
<path d="M427.21,428.69 A11.5,11.5 0 0 1 441.99,428.69" fill="none" stroke="#2a5a8a" stroke-width="4.5" stroke-linecap="round" opacity="0.8"/><path d="M427.21,428.69 A11.5,11.5 0 0 1 441.99,428.69" fill="none" stroke="#5eb8e6" stroke-width="3.4" stroke-linecap="round"/>
<path d="M421.30,423.24 A19.5,19.5 0 0 1 447.90,423.24" fill="none" stroke="#2a5a8a" stroke-width="4.5" stroke-linecap="round" opacity="0.8"/><path d="M421.30,423.24 A19.5,19.5 0 0 1 447.90,423.24" fill="none" stroke="#5eb8e6" stroke-width="3.4" stroke-linecap="round"/>
<path d="M416.56,416.75 A27.5,27.5 0 0 1 452.64,416.75" fill="none" stroke="#2a5a8a" stroke-width="4.5" stroke-linecap="round" opacity="0.8"/><path d="M416.56,416.75 A27.5,27.5 0 0 1 452.64,416.75" fill="none" stroke="#5eb8e6" stroke-width="3.4" stroke-linecap="round"/>
<g fill="none" stroke="#1c2c46" stroke-width="1"><path d="M496,436 L511.5,446 M508,436 L492,446 M492,446 L515,458 M512,446 L489.5,458 M489.5,458 L518,470 M515,458 L487.5,470"/></g>
<path d="M502,416 L486,475.5 M502,416 L519.5,475.5" fill="none" stroke="#1c2c46" stroke-width="3.6" stroke-linecap="round"/>
<path d="M502,416 L486,475.5 M502,416 L519.5,475.5" fill="none" stroke="#3b62a0" stroke-width="1.9" stroke-linecap="round"/>
<circle cx="502" cy="412.2" r="4.7" fill="#4a82c8" stroke="#1c2c46" stroke-width="1.2"/>
<path d="M487.68,400.72 A19.2,19.2 0 0 0 487.68,424.88" fill="none" stroke="#2a5a8a" stroke-width="3.9" stroke-linecap="round" opacity="0.8"/><path d="M487.68,400.72 A19.2,19.2 0 0 0 487.68,424.88" fill="none" stroke="#5ab8e0" stroke-width="2.8" stroke-linecap="round"/>
<path d="M494.42,404.72 A11,11 0 0 0 494.42,420.28" fill="none" stroke="#2a5a8a" stroke-width="3.9" stroke-linecap="round" opacity="0.8"/><path d="M494.42,404.72 A11,11 0 0 0 494.42,420.28" fill="none" stroke="#5ab8e0" stroke-width="2.8" stroke-linecap="round"/>
<path d="M517.31,400.40 A19.7,19.7 0 0 1 517.31,425.20" fill="none" stroke="#2a5a8a" stroke-width="3.9" stroke-linecap="round" opacity="0.8"/><path d="M517.31,400.40 A19.7,19.7 0 0 1 517.31,425.20" fill="none" stroke="#5ab8e0" stroke-width="2.8" stroke-linecap="round"/>
<path d="M509.92,404.58 A11.2,11.2 0 0 1 509.92,420.42" fill="none" stroke="#2a5a8a" stroke-width="3.9" stroke-linecap="round" opacity="0.8"/><path d="M509.92,404.58 A11.2,11.2 0 0 1 509.92,420.42" fill="none" stroke="#5ab8e0" stroke-width="2.8" stroke-linecap="round"/>
</svg>
</body></html>
